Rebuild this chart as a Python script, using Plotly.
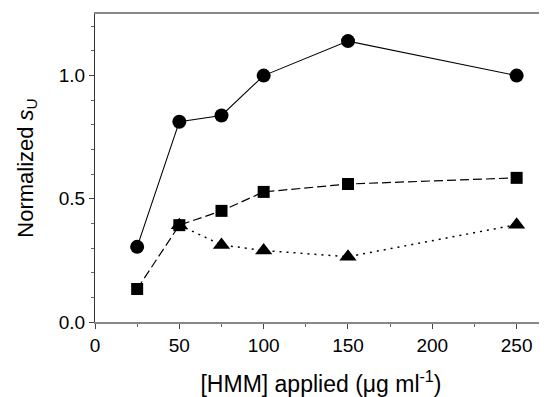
import plotly.graph_objects as go

x_circle = [25, 50, 75, 100, 150, 250]
y_circle = [0.305, 0.813, 0.838, 1.0, 1.14, 1.0]
x_square = [25, 50, 75, 100, 150, 250]
y_square = [0.134, 0.393, 0.451, 0.528, 0.56, 0.585]
x_triangle = [50, 75, 100, 150, 250]
y_triangle = [0.393, 0.313, 0.29, 0.265, 0.395]

x_ticks = [0, 50, 100, 150, 200, 250]
y_ticks = [0.0, 0.5, 1.0]
y_tick_labels = ["0.0", "0.5", "1.0"]

fig = go.Figure()
fig.add_trace(go.Scatter(x=x_triangle, y=y_triangle, mode="lines+markers",
                         line=dict(color="black", width=1.5, dash="2px,5px"),
                         marker=dict(symbol="triangle-up", size=15, color="black")))
fig.add_trace(go.Scatter(x=x_square, y=y_square, mode="lines+markers",
                         line=dict(color="black", width=1.2, dash="9px,4px"),
                         marker=dict(symbol="square", size=12, color="black")))
fig.add_trace(go.Scatter(x=x_circle, y=y_circle, mode="lines+markers",
                         line=dict(color="black", width=1.1),
                         marker=dict(symbol="circle", size=14, color="black")))

font = "Liberation Sans, Arial, sans-serif"
fig.update_layout(
    width=539, height=389,
    margin=dict(l=87, r=0, t=6, b=75),
    paper_bgcolor="white", plot_bgcolor="white",
    showlegend=False,
    font=dict(family=font, size=19, color="black"),
    xaxis=dict(range=[0, 268], tickvals=x_ticks, ticks="outside", ticklen=5,
               tickcolor="#444", showline=True, linecolor="#888", linewidth=1.5,
               mirror=True, showgrid=False, zeroline=False, automargin=False,
               minor=dict(tickvals=[25, 75, 125, 175, 225], ticks="outside", ticklen=3, tickcolor="#666"),
               title=dict(text="[HMM] applied (\u03bcg ml<sup>-1</sup>)", font=dict(size=23), standoff=22)),
    yaxis=dict(range=[0, 1.25], tickvals=y_ticks, ticktext=y_tick_labels, ticks="outside",
               ticklen=5, tickcolor="#444", showline=True, linecolor="#333", linewidth=1,
               showgrid=False, zeroline=False, automargin=False,
               minor=dict(tickvals=[0.1, 0.2, 0.3, 0.4, 0.6, 0.7, 0.8, 0.9, 1.1, 1.2],
                          ticks="outside", ticklen=3, tickcolor="#666"),
               title=dict(text="Normalized <i>s</i><sub>U</sub>", font=dict(size=22), standoff=19)),
)

fig.write_html("out.html")
